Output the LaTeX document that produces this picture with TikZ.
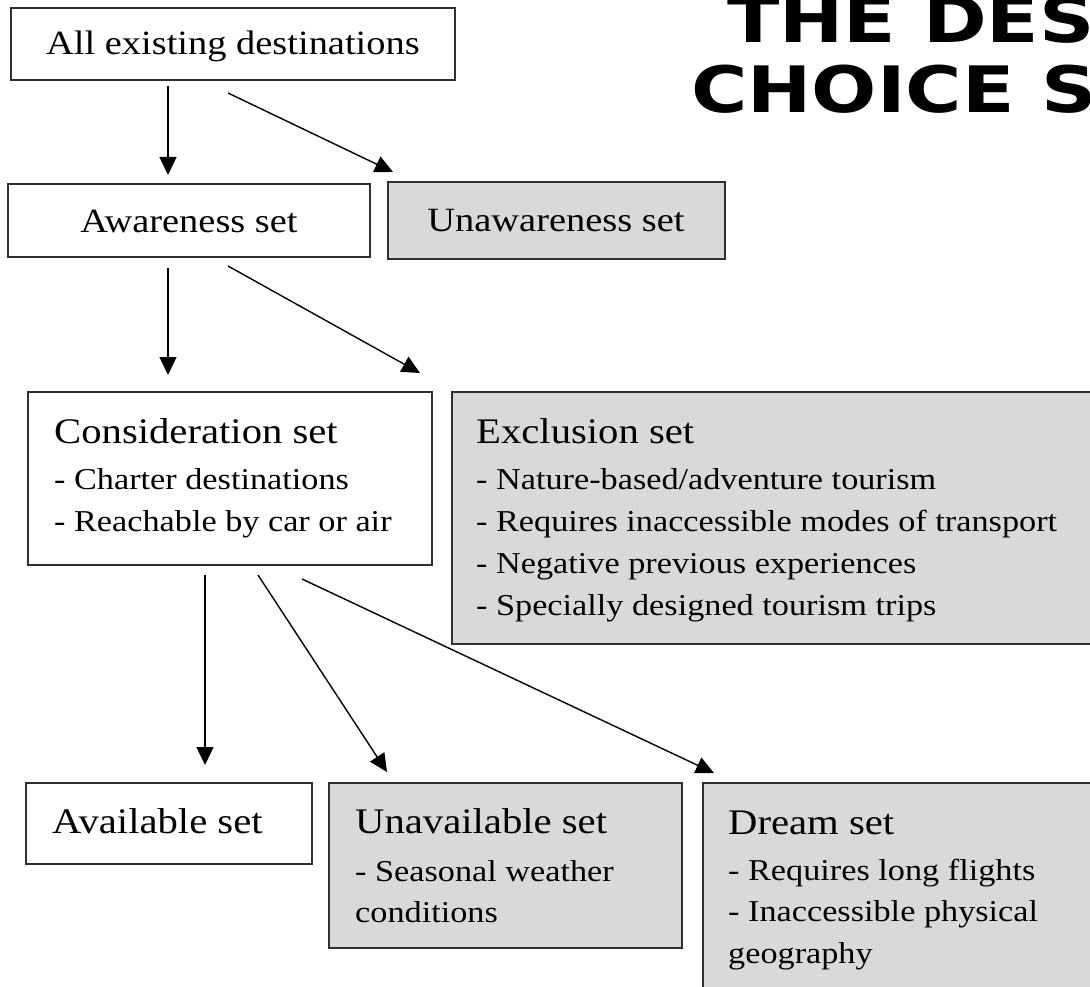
\documentclass[tikz,border=0pt]{standalone}
\usepackage{fontspec}
\setmainfont[FakeStretch=1.13]{Liberation Serif}
\newfontfamily\titlefont[FakeStretch=1.2]{DejaVu Sans}
\usetikzlibrary{arrows.meta,calc}
\definecolor{boxgray}{HTML}{D9D9D9}
\definecolor{edge}{HTML}{303030}
\begin{document}
\begin{tikzpicture}[x=1pt,y=-1pt,
  box/.style={draw=edge,line width=1.6pt,anchor=north west,inner sep=0pt,outer sep=0pt},
  graybox/.style={box,fill=boxgray},
  toptext/.style={anchor=base,inner sep=0pt,font=\fontsize{34}{40}\selectfont},
  head/.style={anchor=base west,inner sep=0pt,font=\fontsize{36}{42}\selectfont},
  item/.style={anchor=base west,inner sep=0pt,font=\fontsize{30.3}{36}\selectfont},
  titletext/.style={anchor=base west,inner sep=0pt,font=\titlefont\bfseries\fontsize{64}{72}\selectfont},
  conn/.style={draw=black,line width=1.4pt,-{Triangle[length=18pt,width=17pt]}}]
\useasboundingbox (0,0) rectangle (1090,987);
\clip (0,0) rectangle (1090,987);

% title (cut off at the right edge, as in the reference)
\node[titletext] (t1) at (727,43) {THE DESTINATION};
\node[titletext] (t2) at (691,113) {CHOICE SETS};

% boxes
\node[box,minimum width=444pt,minimum height=72pt] (ball) at (11,8) {};
\node[box,minimum width=362pt,minimum height=73pt] (baware) at (8,184) {};
\node[graybox,minimum width=337pt,minimum height=77pt] (bunaware) at (388,182) {};
\node[box,minimum width=404pt,minimum height=173pt] (bcons) at (28,392) {};
\node[graybox,minimum width=660pt,minimum height=252pt] (bexcl) at (452,392) {};
\node[box,minimum width=286pt,minimum height=81pt] (bavail) at (26,783) {};
\node[graybox,minimum width=353pt,minimum height=165pt] (bunavail) at (329,783) {};
\node[graybox,minimum width=420pt,minimum height=230pt] (bdream) at (703,783) {};

% texts
\node[toptext] (tall) at (233,55) {All existing destinations};
\node[toptext] (taware) at (189,233) {Awareness set};
\node[toptext] (tunaware) at (556,232) {Unawareness set};

\node[head] (tcons) at (54,443) {Consideration set};
\node[item] (tcons1) at (54,489) {- Charter destinations};
\node[item] (tcons2) at (54,531) {- Reachable by car or air};

\node[head] (texcl) at (476,443) {Exclusion set};
\node[item] (texcl1) at (476,489) {- Nature-based/adventure tourism};
\node[item] (texcl2) at (476,531) {- Requires inaccessible modes of transport};
\node[item] (texcl3) at (476,573) {- Negative previous experiences};
\node[item] (texcl4) at (476,615) {- Specially designed tourism trips};

\node[head] (tavail) at (52,833.5) {Available set};

\node[head] (tunavail) at (355,833.5) {Unavailable set};
\node[item] (tunavail1) at (355,881) {- Seasonal weather};
\node[item] (tunavail2) at (355,922) {conditions};

\node[head] (tdream) at (728,834) {Dream set};
\node[item] (tdream1) at (728,880) {- Requires long flights};
\node[item] (tdream2) at (728,921.5) {- Inaccessible physical};
\node[item] (tdream3) at (728,963) {geography};

% connectors
\draw[conn] ([xshift=157pt,yshift=-6pt]ball.south west) -- ([xshift=160pt,yshift=9pt]baware.north west);
\draw[conn] ([xshift=217pt,yshift=-13pt]ball.south west) -- ([xshift=5pt,yshift=10pt]bunaware.north west);
\draw[conn] ([xshift=160pt,yshift=-11pt]baware.south west) -- ([xshift=140pt,yshift=17pt]bcons.north west);
\draw[conn] ([xshift=220pt,yshift=-9pt]baware.south west) -- ([xshift=-32pt,yshift=19pt]bexcl.north west);
\draw[conn] ([xshift=177pt,yshift=-10pt]bcons.south west) -- ([xshift=179pt,yshift=18pt]bavail.north west);
\draw[conn] ([xshift=230pt,yshift=-10pt]bcons.south west) -- ([xshift=58pt,yshift=11pt]bunavail.north west);
\draw[conn] ([xshift=274pt,yshift=-14pt]bcons.south west) -- ([xshift=11pt,yshift=10pt]bdream.north west);
\end{tikzpicture}
\end{document}
